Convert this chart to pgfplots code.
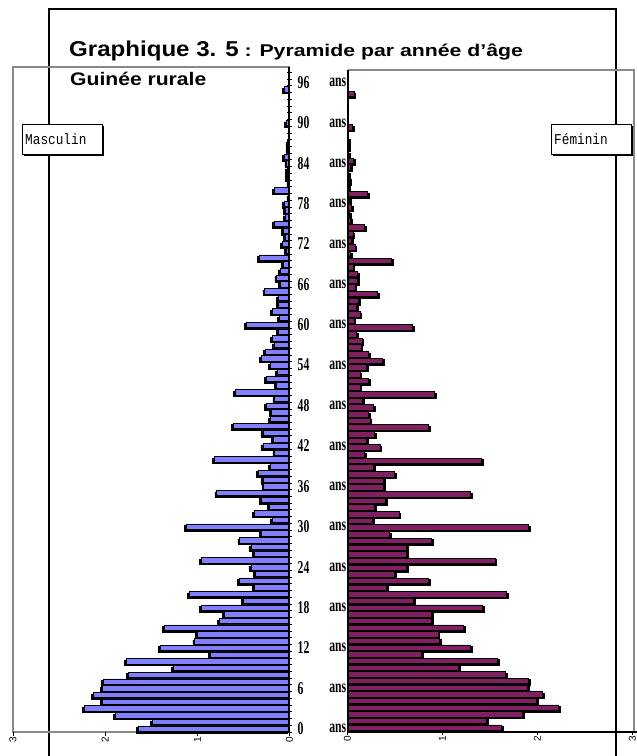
\documentclass[border=0pt]{standalone}
\usepackage{fontspec}
\setmainfont{Liberation Sans}
\newfontfamily\agefont[FakeStretch=0.65]{Liberation Serif}
\newfontfamily\boxfont[FakeStretch=0.85]{Liberation Mono}
\newfontfamily\tfa[FakeStretch=1.12]{Liberation Sans}
\newfontfamily\tfb[FakeStretch=1.25]{Liberation Sans}
\newfontfamily\tfc[FakeStretch=1.16]{Liberation Sans}
\usepackage{pgfplots}
\usepackage{pgfplotstable}
\pgfplotsset{compat=1.18}
\definecolor{male}{HTML}{8080FF}
\definecolor{female}{HTML}{802060}
\definecolor{framegray}{HTML}{888888}

\pgfplotstableread{
a v
0 1.64
1 1.49
2 1.89
3 2.23
4 2.03
5 2.13
6 2.03
7 2.02
8 1.75
9 1.26
10 1.77
11 0.86
12 1.40
13 1.03
14 1.00
15 1.36
16 0.76
17 0.71
18 0.96
19 0.50
20 1.09
21 0.38
22 0.55
23 0.37
24 0.42
25 0.96
26 0.38
27 0.42
28 0.54
29 0.31
30 1.12
31 0.19
32 0.38
33 0.22
34 0.31
35 0.79
36 0.28
37 0.29
38 0.34
39 0.21
40 0.82
41 0.16
42 0.29
43 0.18
44 0.29
45 0.61
46 0.21
47 0.20
48 0.25
49 0.16
50 0.59
51 0.145
52 0.25
53 0.13
54 0.21
55 0.31
56 0.26
57 0.17
58 0.19
59 0.12
60 0.47
61 0.11
62 0.19
63 0.12
64 0.12
65 0.27
66 0.10
67 0.14
68 0.10
69 0.07
70 0.33
71 0.04
72 0.08
73 0.05
74 0.07
75 0.17
76 0.05
77 0.045
78 0.06
79 0.01
80 0.17
81 0.01
82 0.025
83 0.025
84 0.03
85 0.06
86 0.02
87 0.02
90 0.04
95 0.06
}\maletab

\pgfplotstableread{
a v
0 1.62
1 1.46
2 1.84
3 2.22
4 1.99
5 2.05
6 1.89
7 1.90
8 1.66
9 1.17
10 1.58
11 0.78
12 1.29
13 0.97
14 0.95
15 1.22
16 0.88
17 0.88
18 1.42
19 0.69
20 1.67
21 0.41
22 0.85
23 0.49
24 0.62
25 1.55
26 0.62
27 0.62
28 0.88
29 0.44
30 1.90
31 0.26
32 0.54
33 0.28
34 0.40
35 1.29
36 0.38
37 0.38
38 0.49
39 0.27
40 1.41
41 0.18
42 0.34
43 0.20
44 0.28
45 0.85
46 0.235
47 0.22
48 0.27
49 0.16
50 0.91
51 0.13
52 0.22
53 0.13
54 0.20
55 0.37
56 0.22
57 0.14
58 0.15
59 0.09
60 0.68
61 0.067
62 0.13
63 0.09
64 0.11
65 0.31
66 0.077
67 0.10
68 0.10
69 0.056
70 0.46
71 0.03
72 0.077
73 0.04
74 0.056
75 0.18
76 0.03
77 0.02
78 0.04
79 0.02
80 0.21
81 0.01
82 0.02
83 0.01
84 0.03
85 0.06
86 0.01
87 0.01
88 0.005
90 0.05
95 0.066
}\femtab

\pgfplotsset{
  pyr/.style={
    scale only axis, clip=false,
    xmin=0, xmax=3,
    axis line style={draw=none},
    xtick={0,1,2,3}, xtick pos=left,
    tick align=outside, major tick length=3.5pt,
    tick style={black, line width=0.8pt},
    /pgf/number format/assume math mode=true,
    xticklabel style={rotate=90, anchor=east, font=\fontsize{10}{10}\selectfont, inner sep=1pt},
  }
}

\begin{document}
\begin{tikzpicture}[x=1pt,y=1pt]
\useasboundingbox (0,0) rectangle (637,756);
% outer black frame
\draw[line width=2pt, line cap=rect] (49,0) -- (49,747) -- (616,747) -- (616,0);

% panel frames
\draw[framegray, line width=2pt] (289.5,689.3) -- (13,689.3) -- (13,23.7) -- (289.5,23.7);
\draw[framegray, line width=2pt] (347.5,686) -- (634,686) -- (634,24.3);
\draw[black, line width=2pt] (347.5,24.3) -- (637,24.3);

% left (male) axis
\begin{axis}[pyr,
  at={(13pt,23.7pt)}, anchor=south west,
  width=276.5pt, height=665.3pt,
  x dir=reverse,
  ymin=-0.55, ymax=98.3,
  ytick={-0.5,0.5,...,97.5}, yticklabels={}, ytick pos=right,
  ytick style={black, line width=0.8pt, /pgfplots/tick align=center, /pgfplots/major tick length=5pt},
]
\addplot[xbar, bar width=5.4pt, fill=male, draw=black, line width=0.5pt,
  preaction={fill=black, transform canvas={shift={(-1.8pt,-1.6pt)}}}]
  table[x=v, y=a]{\maletab};
\draw[black, line width=2pt] (axis cs:0,-0.55) -- (axis cs:0,98.3);
\pgfplotsinvokeforeach{0,6,...,96}{
  \node[anchor=west, inner sep=0pt, xshift=8pt, font=\agefont\bfseries\fontsize{18}{18}\selectfont] at (axis cs:0,#1) {#1};
  \node[anchor=east, inner sep=0pt, xshift=57pt, font=\agefont\bfseries\fontsize{18}{18}\selectfont] at (axis cs:0,#1) {ans};
}
\end{axis}

% right (female) axis
\begin{axis}[pyr,
  at={(347.5pt,24.3pt)}, anchor=south west,
  width=285pt, height=661.7pt,
  ymin=-0.63, ymax=98.6,
  ytick=\empty,
]
\addplot[xbar, bar width=5.4pt, fill=female, draw=black, line width=0.5pt,
  preaction={fill=black, transform canvas={shift={(1.8pt,-1.6pt)}}}]
  table[x=v, y=a]{\femtab};
\draw[black, line width=2pt] (axis cs:0,-0.63) -- (axis cs:0,98.6);
\end{axis}

% legend boxes
\fill[black] (24,600) rectangle (104,630);
\draw[fill=white, line width=0.8pt] (22,602) rectangle (102,632);
\node[anchor=west, inner sep=0pt, font=\boxfont\fontsize{15}{15}\selectfont] at (25,617) {Masculin};
\fill[black] (553,600) rectangle (633,630);
\draw[fill=white, line width=0.8pt] (551,602) rectangle (631,632);
\node[anchor=west, inner sep=0pt, font=\boxfont\fontsize{15}{15}\selectfont] at (554,617) {Féminin};

% titles
\node[anchor=base west, inner sep=0pt] at (69,699.3) {\tfa\bfseries\fontsize{21.5}{21.5}\selectfont Graphique 3. 5\tfb\bfseries\fontsize{17}{17}\selectfont{} : Pyramide par année d’âge};
\node[anchor=base west, inner sep=0pt] at (70,670.3) {\tfc\bfseries\fontsize{18.2}{18.2}\selectfont Guinée rurale};
\end{tikzpicture}
\end{document}
